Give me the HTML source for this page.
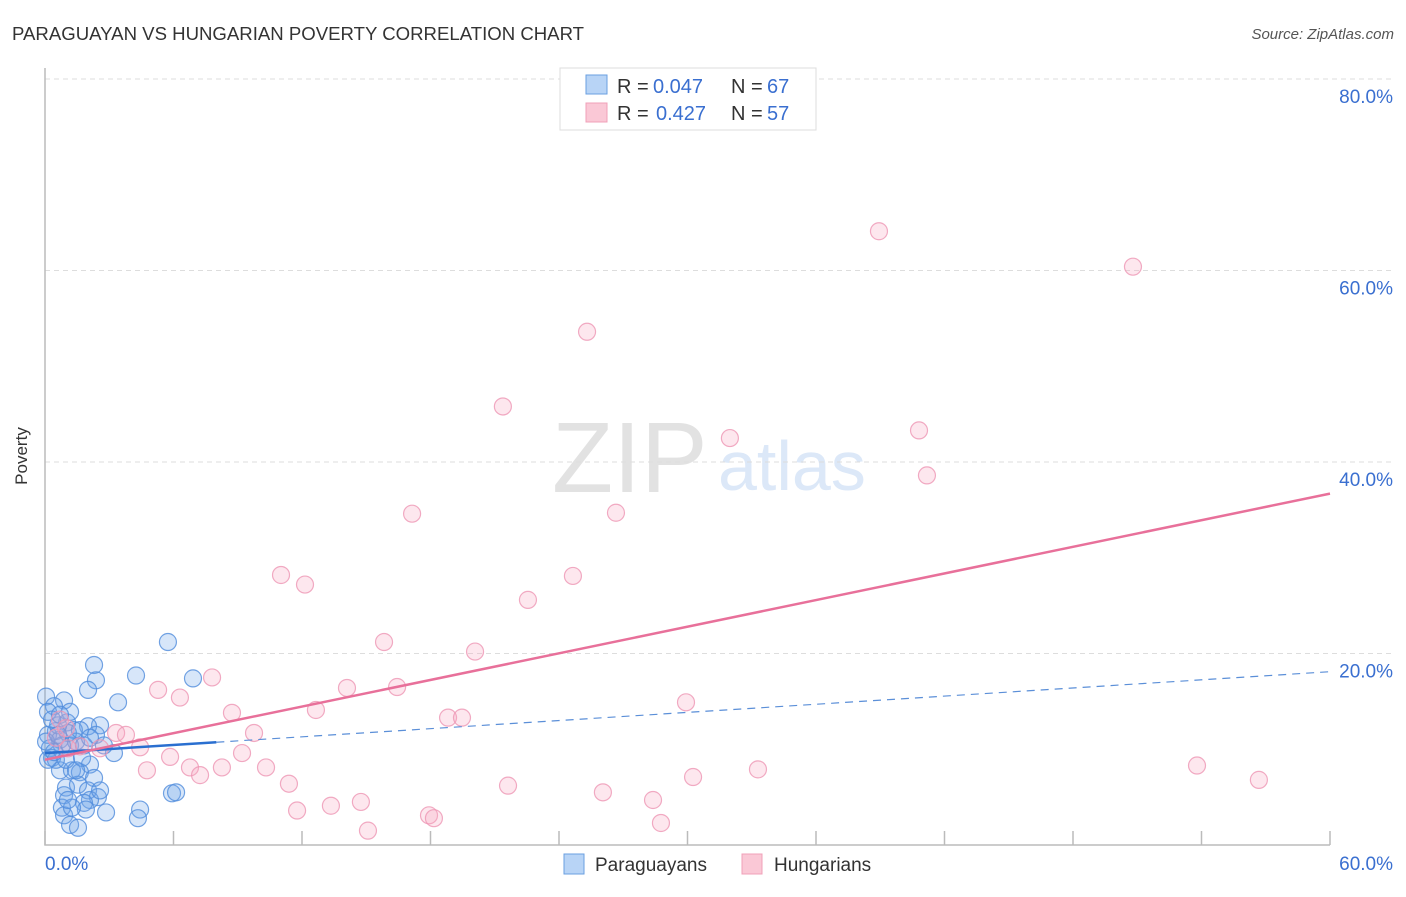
<!DOCTYPE html>
<html><head><meta charset="utf-8"><style>
body{margin:0;background:#fff;font-family:"Liberation Sans",sans-serif;}
svg text{font-family:"Liberation Sans",sans-serif;}
</style></head><body>
<svg id="c" width="1406" height="892" xmlns="http://www.w3.org/2000/svg">
<text x="12" y="40" font-size="18.6" fill="#333">PARAGUAYAN VS HUNGARIAN POVERTY CORRELATION CHART</text>
<text x="1394" y="39" font-size="15" fill="#555" text-anchor="end" font-style="italic">Source: ZipAtlas.com</text>
<text x="27" y="456" font-size="17" fill="#333" text-anchor="middle" transform="rotate(-90 27 456)">Poverty</text>
<text x="552" y="492" font-size="100" fill="#e2e2e2" font-family="Liberation Serif">ZIP</text>
<text x="718" y="490" font-size="70" fill="#dce8f8">atlas</text>
<g id="grid"></g><g id="pts"></g><g id="lines"></g>
<g>
<rect x="560" y="68" width="256" height="62" fill="#fff" stroke="#ddd"/>
<rect x="586" y="75" width="21" height="19" fill="#b8d4f6" stroke="#6a9fe0"/>
<text x="617" y="93" font-size="20" fill="#333">R =</text>
<text x="653" y="93" font-size="20" fill="#3a6fd0">0.047</text>
<text x="731" y="93" font-size="20" fill="#333">N =</text>
<text x="767" y="93" font-size="20" fill="#3a6fd0">67</text>
<rect x="586" y="103" width="21" height="19" fill="#fac8d6" stroke="#f0a0b8"/>
<text x="617" y="120" font-size="20" fill="#333">R =</text>
<text x="656" y="120" font-size="20" fill="#3a6fd0">0.427</text>
<text x="731" y="120" font-size="20" fill="#333">N =</text>
<text x="767" y="120" font-size="20" fill="#3a6fd0">57</text>
</g>
<g>
<rect x="564" y="854" width="20" height="20" fill="#b8d4f6" stroke="#6a9fe0"/>
<text x="595" y="871" font-size="19" fill="#333">Paraguayans</text>
<rect x="742" y="854" width="20" height="20" fill="#fac8d6" stroke="#f0a0b8"/>
<text x="774" y="871" font-size="19" fill="#333">Hungarians</text>
</g>
</svg>
<script>
const blueX=[5.74,2.29,2.38,4.25,6.91,2.01,3.41,0.05,0.89,0.42,0.14,1.03,2.57,2.01,1.35,0.51,0.14,0.70,1.17,0.23,3.22,2.10,0.33,0.70,1.26,1.63,2.29,0.98,1.54,2.01,2.47,2.10,1.82,0.89,0.79,1.91,2.85,4.44,5.93,6.12,0.89,1.17,1.54,4.34,1.07,1.45,0.61,0.79,0.33,0.05,1.82,1.63,0.51,1.26,2.38,0.98,2.75,1.17,2.10,0.70,0.14,0.42,1.73,1.45,2.57,1.07,0.61];
const blueY=[21.2,18.8,17.2,17.7,17.4,16.2,14.9,15.5,15.1,14.5,13.9,12.8,12.5,12.4,12.0,11.9,11.5,11.0,10.4,10.1,9.6,8.4,9.1,7.8,7.8,7.6,7.0,6.0,6.3,5.7,5.0,4.7,4.4,5.2,3.9,3.7,3.4,3.7,5.4,5.5,3.1,2.1,1.8,2.8,11.7,10.8,12.5,10.4,13.1,10.8,10.4,12.0,8.9,3.9,11.5,8.9,10.4,13.9,11.2,13.6,8.9,9.7,9.1,7.8,5.7,4.7,11.5];
const pinkX=[38.94,50.80,25.31,21.38,31.98,40.81,41.18,17.14,26.66,11.02,12.14,24.65,22.55,15.83,20.08,7.80,5.28,6.30,14.10,16.44,12.65,8.73,18.82,19.47,29.93,9.76,3.32,3.78,4.44,2.57,1.63,1.07,9.20,5.84,6.77,8.26,10.32,7.24,4.76,30.26,33.29,53.79,56.68,21.62,11.39,26.05,28.39,13.35,11.77,14.75,17.93,18.16,28.76,15.08,0.70,0.51,0.98];
const pinkY=[64.1,60.4,53.6,45.8,42.5,43.3,38.6,34.6,34.7,28.2,27.2,28.1,25.6,21.2,20.2,17.5,16.2,15.4,16.4,16.5,14.1,13.8,13.3,13.3,14.9,11.7,11.7,11.5,10.2,10.1,10.3,10.1,9.6,9.2,8.1,8.1,8.1,7.3,7.8,7.1,7.9,8.3,6.8,6.2,6.4,5.5,4.7,4.1,3.6,4.5,3.1,2.8,2.3,1.5,13.1,11.2,12.2];
const yTicks=[20,40,60,80];
const yTickLabels=["20.0%","40.0%","60.0%","80.0%"];
const xTicks=[0,6,12,18,24,30,36,42,48,54,60];
const pinkFit=[8.9,36.7];
const blueFit=[9.6,18.1];
const blueSolidEnd=8.0;
const NS="http://www.w3.org/2000/svg";
const X=v=>45+v*(1285/60), Y=v=>845-v*9.575;
function mk(t,a,p){const e=document.createElementNS(NS,t);for(const k in a)e.setAttribute(k,a[k]);p.appendChild(e);return e;}
const g=document.getElementById('grid');
yTicks.forEach((t,i)=>{
 const l=mk('line',{x1:45,x2:1393,y1:Y(t),y2:Y(t),stroke:'#ddd','stroke-dasharray':'5,4'},g);
 
 
 const tx=mk('text',{x:1393,y:Y(t)+24,'font-size':19,fill:'#3a6fd0','text-anchor':'end'},g);
 tx.textContent=yTickLabels[i];
 
 
});
const ax=mk('path',{d:'M45,68 V845 H1330',fill:'none',stroke:'#bbb','stroke-width':1.5},g);


xTicks.forEach(t=>{const l=mk('line',{x1:X(t),x2:X(t),y1:831,y2:845,stroke:'#bbb','stroke-width':1.5},g);
 
 });
const x0=mk('text',{x:45,y:870,'font-size':19,fill:'#3a6fd0'},g);x0.textContent='0.0%';


const x1=mk('text',{x:1393,y:870,'font-size':19,fill:'#3a6fd0','text-anchor':'end'},g);x1.textContent='60.0%';


const P=document.getElementById('pts');
blueX.forEach((v,i)=>{const c=mk('circle',{cx:X(v),cy:Y(blueY[i]),r:8.5,fill:'rgba(110,165,235,0.28)',stroke:'rgba(80,140,220,0.8)','stroke-width':1.2},P);
 
 });
pinkX.forEach((v,i)=>{const c=mk('circle',{cx:X(v),cy:Y(pinkY[i]),r:8.5,fill:'rgba(248,170,195,0.28)',stroke:'rgba(238,150,180,0.8)','stroke-width':1.2},P);
 
 });
const L=document.getElementById('lines');
const by=x=>blueFit[0]+(blueFit[1]-blueFit[0])*x/60;
const bd=mk('line',{x1:X(blueSolidEnd),y1:Y(by(blueSolidEnd)),x2:X(60),y2:Y(blueFit[1]),stroke:'#5b8fd8','stroke-width':1.2,'stroke-dasharray':'8,6'},L);


const bs=mk('line',{x1:X(0),y1:Y(blueFit[0]),x2:X(blueSolidEnd),y2:Y(by(blueSolidEnd)),stroke:'#2a6fd0','stroke-width':2.5},L);


const pl=mk('line',{x1:X(0),y1:Y(pinkFit[0]),x2:X(60),y2:Y(pinkFit[1]),stroke:'#e8709a','stroke-width':2.5},L);


</script>
</body></html>
